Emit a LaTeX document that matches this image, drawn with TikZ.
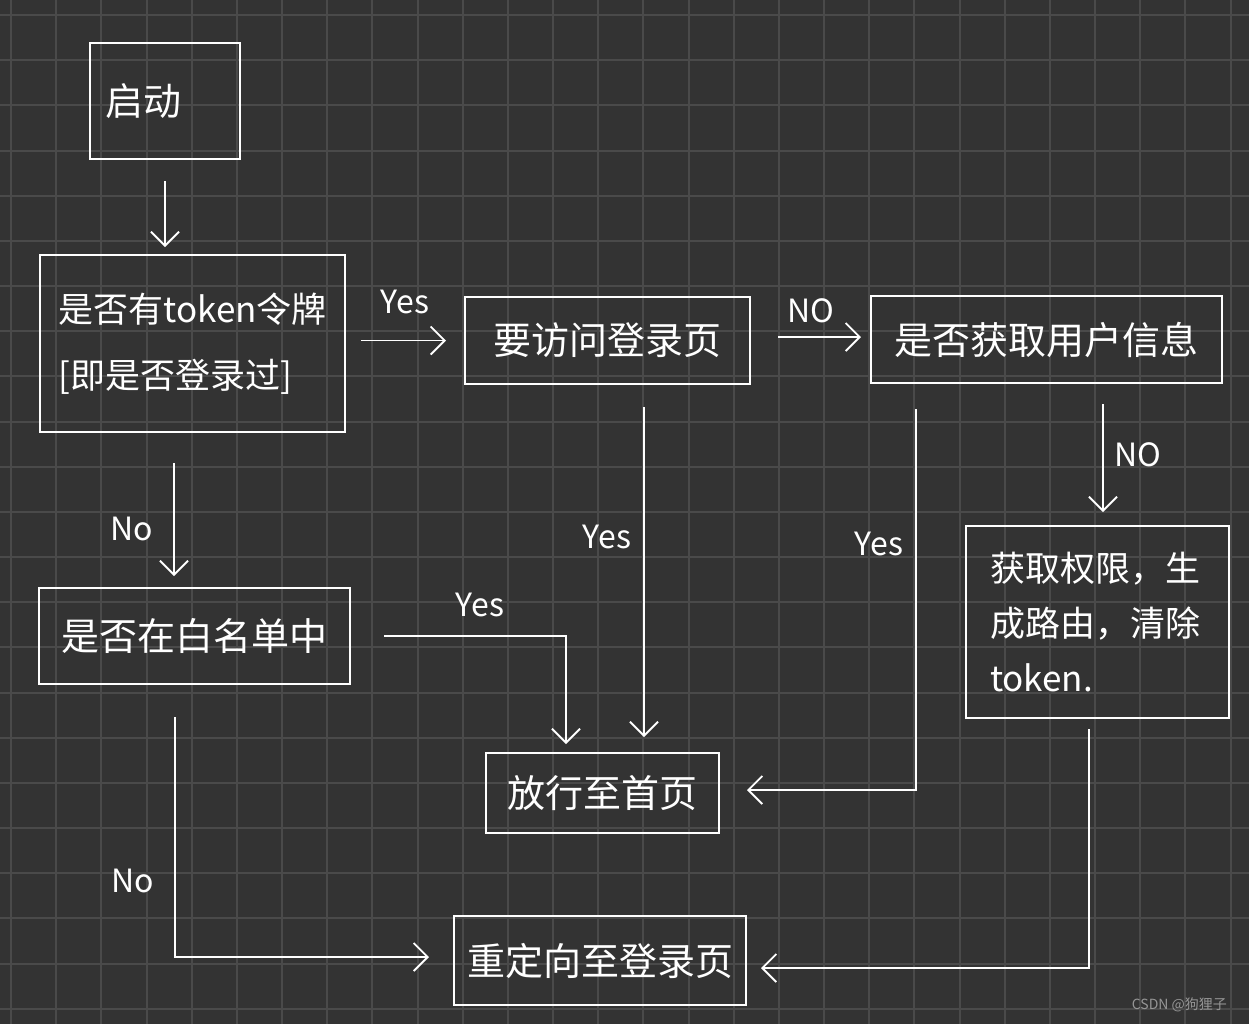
\documentclass[tikz,border=0pt]{standalone}
\usepackage{fontspec}
\setmainfont{Noto Sans CJK SC}
\usetikzlibrary{arrows.meta}
\definecolor{bgc}{RGB}{51,51,51}
\definecolor{gridc}{RGB}{74,74,74}
\definecolor{markc}{RGB}{150,150,150}

\begin{document}
\begin{tikzpicture}[
        x=0.5pt, y=-0.5pt,
        box/.style={draw=white, line width=1pt, text=white, inner sep=0pt,
          font=\fontsize{19pt}{23pt}\selectfont},
        lbl/.style={text=white, font=\fontsize{16pt}{18pt}\selectfont},
        arr/.style={draw=white, line width=0.9pt,
          -{Straight Barb[length=7pt,width=14pt]}},
        gridline/.style={draw=gridc, line width=1pt}]
        % 背景与网格
        \fill[bgc] (0,0) rectangle (1249,1024);
        \useasboundingbox (0,0) rectangle (1249,1024);
        \foreach \i in {0,...,27}
          \draw[gridline] (11+45.17*\i,0) -- (11+45.17*\i,1024);
        \foreach \j in {0,...,22}
          \draw[gridline] (0,15+45.17*\j) -- (1249,15+45.17*\j);
        % 定义各个框
        \node[box, minimum height=58pt, text width=60pt, inner xsep=7.5pt, align=left] (qidong) at (165,101) {启动};
        \node[box, minimum height=88.5pt, text width=134pt, inner xsep=9.25pt, align=left,
          font=\fontsize{17.5pt}{33pt}\selectfont] (token) at (192.5,343.5) {是否有token令牌\\{[}即是否登录过]};
        \node[box, minimum width=142.5pt, minimum height=43.5pt] (login) at (607.5,340.5) {要访问登录页};
        \node[box, minimum width=175.5pt, minimum height=43.5pt] (userinfo) at (1046.5,339.5) {是否获取用户信息};
        \node[box, minimum height=96pt, text width=107.5pt, inner xsep=12pt, align=left,
          font=\fontsize{17.5pt}{27.5pt}\selectfont] (route) at (1097.5,622) {获取权限，生\\成路由，清除\\token.};
        \node[box, minimum width=155.5pt, minimum height=48pt] (white) at (194.5,636) {是否在白名单中};
        \node[box, minimum width=116.5pt, minimum height=40pt] (home) at (602.5,793) {放行至首页};
        \node[box, minimum width=146pt, minimum height=44.5pt] (relogin) at (600,960.5) {重定向至登录页};
        % 绘制箭头
        \draw[arr, shorten <=10.5pt, shorten >=3.5pt] (qidong.south) -- (qidong.south |- token.north);
        \draw[arr, shorten <=7.5pt, shorten >=9pt] (token.east |- login.west) -- (login.west)
          node[lbl, midway, yshift=19.5pt] (yes1) {Yes};
        \draw[arr, shorten <=13.5pt, shorten >=4.5pt] ([yshift=1.75pt]login.east) -- ([yshift=1.75pt]login.east -| userinfo.west)
          node[lbl, midway, yshift=13pt] (no1) {NO};
        \draw[arr, shorten <=10pt, shorten >=6.5pt] ([xshift=28.25pt]userinfo.south) -- ([xshift=28.25pt]userinfo.south |- route.north)
          node[lbl, midway, xshift=17.5pt] (no2) {NO};
        \draw[arr, shorten <=15pt, shorten >=5.5pt] ([xshift=-9.25pt]token.south) -- ([xshift=-9.25pt]token.south |- white.north)
          node[lbl, pos=0.62, xshift=-21pt] (no3) {No};
        \draw[arr, shorten <=16.5pt, shorten >=4pt] (white.east) -| ([xshift=-18.25pt]home.north)
          node[lbl, pos=0.3, yshift=15.5pt] (yes2) {Yes};
        \draw[arr, shorten <=11pt, shorten >=7.5pt] ([xshift=18.25pt]login.south) -- ([xshift=18.25pt]login.south |- home.north)
          node[lbl, pos=0.415, xshift=-18.5pt] (yes3) {Yes};
        \draw[arr, shorten <=12.5pt, shorten >=13.5pt] ([xshift=-65.25pt]userinfo.south) |- ([yshift=1.5pt]home.east)
          node[lbl, pos=0.197, xshift=-18.5pt] (yes4) {Yes};
        \draw[arr, shorten <=16pt, shorten >=12pt] ([xshift=-9.75pt]white.south) |- ([yshift=1.75pt]relogin.west)
          node[lbl, pos=0.36, xshift=-21pt] (no4) {No};
        \draw[arr, shorten <=5pt, shorten >=7pt] ([xshift=-4.25pt]route.south) |- ([yshift=-3.75pt]relogin.east);
        % 水印
        \node[text=markc, font=\fontsize{7pt}{8pt}\selectfont, anchor=east] (csdn) at (1234,1005) {CSDN @狗狸子};
      \end{tikzpicture}
\end{document}
